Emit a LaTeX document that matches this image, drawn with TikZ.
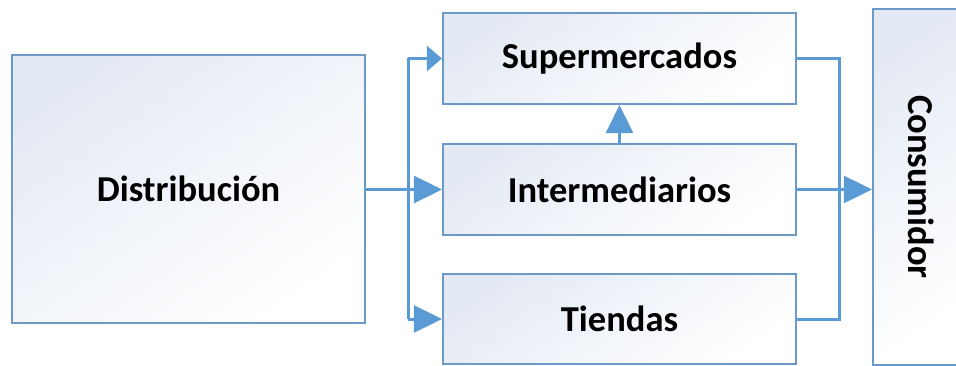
\documentclass[tikz,border=0pt]{standalone}
\usepackage{fontspec}
\setmainfont{Carlito}
\usetikzlibrary{arrows.meta,positioning}

\definecolor{linkblue}{HTML}{5B9BD5}
\definecolor{edgeblue}{HTML}{6D99C7}
\definecolor{shadeblue}{HTML}{E4EAF4}

\tikzset{
  labelfont/.style={font=\fontsize{36.5}{40}\selectfont\bfseries, text=black},
  box/.style={draw=edgeblue, line width=2.2pt, rectangle, inner sep=0pt,
    top color=shadeblue, bottom color=white, shading angle=35, labelfont},
  link/.style={draw=linkblue, line width=3pt},
  bigtip/.style={link, -{Triangle[length=28pt,width=27pt]}},
  smalltip/.style={link, -{Triangle[length=15pt,width=25pt]}},
}

\begin{document}
\begin{tikzpicture}[x=1pt, y=-1pt]
  \useasboundingbox (0,0) rectangle (956,366);

  % boxes
  \node[box, minimum width=353pt, minimum height=268pt] (dist) at (188.5,189) {Distribución};
  \node[box, minimum width=353pt, minimum height=91pt]  (super) at (619.5,58.5) {Supermercados};
  \node[box, minimum width=353pt, minimum height=91pt]  (inter) at (619.5,189.5) {Intermediarios};
  \node[box, minimum width=353pt, minimum height=90pt]  (tiend) at (619.5,319) {Tiendas};
  \begin{scope}
    \clip (0,0) rectangle (956,366);
    \node[box, minimum width=87pt, minimum height=356pt] (cons) at (916.5,187) {};
    \node[labelfont, rotate=-90] (conslabel) at ([xshift=5pt]cons.center) {Consumidor};
  \end{scope}

  % split and merge points
  \coordinate (split) at (408,189.5);
  \coordinate (merge) at (839,189.5);

  % from Distribución to the three channels
  \draw[bigtip] (dist.east |- inter.west) -- (inter.west);
  \draw[link] (split) -- (split |- super.west);
  \draw[link] (split) -- (split |- tiend.west);
  \draw[smalltip] (split |- super.west) -- (super.west);
  \draw[bigtip] (split |- tiend.west) -- (tiend.west);

  % Intermediarios feeds Supermercados
  \draw[bigtip] (inter.north) -- (super.south);

  % channels to Consumidor
  \draw[link] (super.east) -| (merge);
  \draw[link] (tiend.east) -| (merge);
  \draw[bigtip] (inter.east) -- (cons.west |- inter.east);
\end{tikzpicture}
\end{document}
